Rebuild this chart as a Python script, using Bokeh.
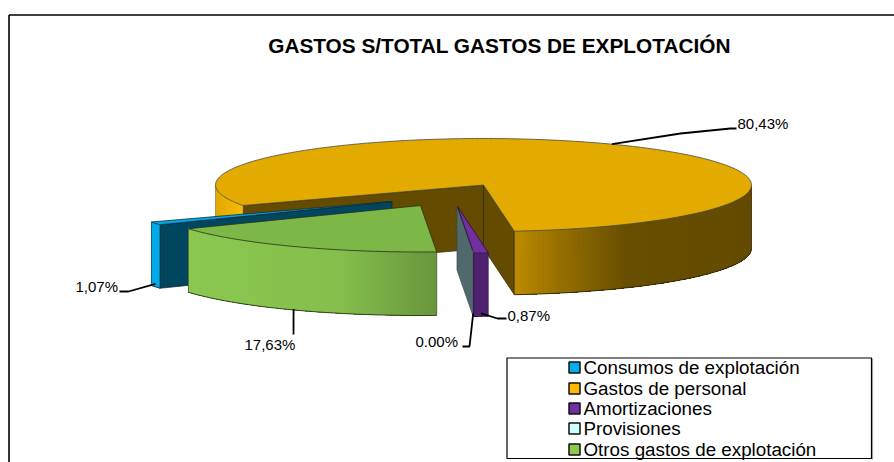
import math
from bokeh.plotting import figure
from bokeh.models import Range1d, ColumnDataSource
from bokeh.core.properties import value
from bokeh.embed import file_html
from bokeh.resources import INLINE

# ---- chart data ----
title = "GASTOS S/TOTAL GASTOS DE EXPLOTACIÓN"
categories = ["Consumos de explotación", "Gastos de personal", "Amortizaciones",
              "Provisiones", "Otros gastos de explotación"]
percent = [1.07, 80.43, 0.87, 0.00, 17.63]
percent_labels = ["1,07%", "80,43%", "0,87%", "0.00%", "17,63%"]
legend_colors = ["#00AEEF", "#FFB900", "#7030A0", "#CCFFFF", "#8DC84F"]
top_colors = ["#00A6E4", "#E3AB00", "#7030A0", "#CCFFFF", "#7DB748"]
face_colors = ["#00465F", "#644B00", "#4F2170", "#50696D", "#6B973C"]

# ---- pie geometry (pixels of the page) ----
W, H = 894, 462
RX, RY, DEPTH = 268, 46.5, 63.5
CX, CY = 483, 184.5
START = 240.0
# slice apex, one per category: the pie centre plus the explosion
EXPLODE = [(-91.5, 16.5), (0, 0), (-26, 21.5), (-26.5, 21.5), (-63, 20.5)]

p = figure(width=W, height=H, x_range=Range1d(0, W), y_range=Range1d(H, 0),
           output_backend="svg", toolbar_location=None, min_border=0,
           background_fill_color="white", border_fill_color="white", outline_line_color=None)
p.xaxis.visible = False
p.yaxis.visible = False
p.grid.visible = False

# angles clockwise from the top of the pie
angles = [START]
for v in percent:
    angles.append(angles[-1] + v * 3.6)


def pt(th, c, dz=0.0):
    r = math.radians(th)
    return c[0] + RX * math.sin(r), c[1] - RY * math.cos(r) + dz


def arc(a, b, c, dz=0.0, step=1.0):
    n = max(1, int(abs(b - a) / step))
    return [pt(a + (b - a) * i / n, c, dz) for i in range(n + 1)]


def poly(points, fill, line="#2b2410", lw=0.8):
    p.patch([q[0] for q in points], [q[1] for q in points], fill_color=fill,
            line_color=line, line_width=lw, line_join="round")


def lerp(stops, x):
    if x <= stops[0][0]:
        return stops[0][1]
    for (x0, c0), (x1, c1) in zip(stops, stops[1:]):
        if x <= x1:
            t = (x - x0) / (x1 - x0)
            return tuple(int(round(u + (w - u) * t)) for u, w in zip(c0, c1))
    return stops[-1][1]


def hexc(c):
    return "#%02x%02x%02x" % tuple(c)


def wall(a, b, c, stops, step=1.0, line="#2b2410"):
    """Outer rim of a slice, shaded by nested strips along x (no seams)."""
    pts = arc(a, b, c, 0, step)
    xs, ys, cols = [], [], []
    for i in range(len(pts) - 1):
        rest = pts[i:]
        xs.append([q[0] for q in rest] + [q[0] for q in reversed(rest)])
        ys.append([q[1] for q in rest] + [q[1] + DEPTH for q in reversed(rest)])
        cols.append(hexc(lerp(stops, (pts[i][0] + pts[i + 1][0]) / 2)))
    p.patches(xs="xs", ys="ys", fill_color="cols", line_color=None,
              source=ColumnDataSource(dict(xs=xs, ys=ys, cols=cols)))
    bottom = arc(a, b, c, DEPTH, step)
    p.line([q[0] for q in bottom], [q[1] for q in bottom], line_color=line, line_width=0.9)
    for th in (a, b):
        q = pt(th, c)
        p.line([q[0], q[0]], [q[1], q[1] + DEPTH], line_color=line, line_width=0.6)


def cut_face(th, c, fill, line="#2b2410"):
    q = pt(th, c)
    poly([c, q, (q[0], q[1] + DEPTH), (c[0], c[1] + DEPTH)], fill, line, 0.7)


def top_face(a, b, c, fill, line="#2b2410"):
    poly([c] + arc(a, b, c), fill, line, 0.8)


centers = [(CX + dx, CY + dy) for dx, dy in EXPLODE]

# frame of the chart
p.line([8.5, 8.5], [H, 14.5], line_color="black", line_width=1.6)
p.line([8.5, W], [14.5, 14.5], line_color="black", line_width=1.6)

# Gastos de personal
a0, a1 = angles[1], angles[2]
c = centers[1]
cut_face(a0, c, face_colors[1])
cut_face(a1, c, face_colors[1])
wall(a0, 270, c, [(215, (226, 168, 0)), (243, (250, 188, 0))], line="#8a8a8a")
wall(450, a1, c, [(515, (188, 138, 0)), (560, (150, 111, 0)), (625, (104, 78, 0)), (752, (100, 75, 0))])
top_face(a0, a1, c, top_colors[1], "#4a4a40")

# Consumos de explotacion
a0, a1 = angles[0], angles[1]
c = centers[0]
cut_face(a0, c, face_colors[0], "#10202a")
wall(a0, a1, c, [(0, (0, 170, 232)), (900, (0, 170, 232))], line="#10303a")
top_face(a0, a1, c, top_colors[0], "#10303a")

# Provisiones (zero width: only its cut face shows)
cut_face(angles[3], centers[3], face_colors[3], "#3a4a4a")

# Amortizaciones
a0, a1 = angles[2], angles[3]
c = centers[2]
wall(a0, a1, c, [(0, (79, 33, 112)), (900, (79, 33, 112))], line="#2a1040", step=0.5)
top_face(a0, a1, c, top_colors[2], "#2a1040")

# Otros gastos
a0, a1 = angles[4], angles[5]
c = centers[4]
wall(a0, a1, c, [(188, (140, 200, 80)), (340, (133, 190, 76)), (436, (104, 150, 60))], line="#26301a")
top_face(a0, a1, c, top_colors[4], "#26301a")

# leader lines, starting on the rim at each slice's mid angle
bends = [[(128, 291), (119, 291)], [(680, 133), (730, 128), (736, 128)],
         [(497, 318), (506, 318)], [(469, 346), (462, 346)], [(293, 334)]]
for i in range(5):
    mid = (angles[i] + angles[i + 1]) / 2
    if i == 1:
        start = pt(mid, centers[i])
    else:
        start = pt(mid, centers[i], DEPTH - (1 if i == 4 else 3))
    pts = [start] + bends[i]
    p.line([q[0] for q in pts], [q[1] for q in pts], line_color="black", line_width=1.8)

# data labels
lab_x = [75, 737, 507, 415, 244]
lab_y = [286, 122.5, 314.5, 341, 344]
p.text(lab_x, lab_y, text=percent_labels, text_font=value("Liberation Sans"),
       text_font_size="15px", text_color="black", text_baseline="middle", text_align="left")

# title
p.text([499], [45], text=[title], text_font=value("Liberation Sans"), text_font_style="bold",
       text_font_size="20.8px", text_color="black", text_baseline="middle", text_align="center")

# legend
p.line([872, 872], [358, 459], line_color="#b0b0b0", line_width=1.2)
p.quad(left=[506.5], right=[871], top=[357.5], bottom=[458], fill_color="white",
       line_color="black", line_width=1.2)
rows = [367, 388, 408, 428, 449]
p.quad(left=[568.5] * 5, right=[579.5] * 5, top=[y - 5.5 for y in rows], bottom=[y + 5.5 for y in rows],
       fill_color=legend_colors, line_color="#111111", line_width=1.5)
p.text([583] * 5, rows, text=categories, text_font=value("Liberation Sans"),
       text_font_size="18.8px", text_color="black", text_baseline="middle", text_align="left")

open("out.html", "w").write(file_html(p, INLINE))
